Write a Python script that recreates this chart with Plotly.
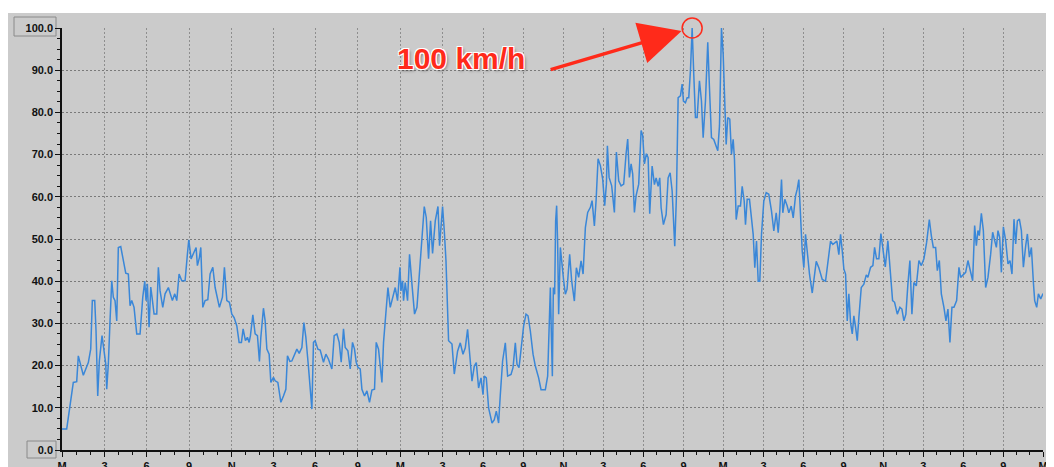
import numpy as np
import plotly.graph_objects as go

# ---- data: wind speed samples (record index, km/h) ----
REC = [0,4.7,11.3,14.7,16.3,21.3,26.3,28.7,30.3,32.7,34,35.7,37.3,40,42,43.7,44.7,46.3,48,49.7,51.3,53,54.7,56.3,58.7,61.3,63.7,66.3,68,69.7,72,74.7,78,80.7,82.7,84,85.3,87,88.7,90,92,94.7,96.3,98,100.7,103,106.3,110.3,112.7,114.7,117,119.7,123,125.3,126.7,129,131.3,134,135.3,137.3,138.7,140.7,143,145.7,148,150.7,153,157.3,160.3,162.3,164.7,167.3,169.7,172,174.7,177,179.3,181,183.3,185.3,187,188.3,190.7,193,195.3,197.3,
       198.7,201.3,203,204.7,207,208.7,211.3,213,215.7,218.7,221.3,223.7,225.3,227.7,229.7,232.3,234.7,237,239.7,241.7,243.7,246.3,248,249.7,251.3,253,255.7,258,261.3,263.7,266.3,269.7,272,274.7,277,279,281.3,283,285.7,288,290.3,292.3,294,295.7,298,299.7,302.3,304.7,307.3,309.7,312.3,314,316.3,318,319.7,321.3,323,325.7,328,330.3,333,335.3,337.7,338.7,340.3,341.3,343,345.3,347.3,349.7,352.3,354.7,357,359.7,362,364,366.3,368.3,370.3,373,375.7,377.3,379,380.3,382,383.7,386.3,
       389.7,392,395.3,398,400.7,403,405.3,407.3,409.7,412,414,416.3,418.7,420.7,422,424,426.3,429.7,432,434,436.3,438,440.3,443,445.3,448.7,450.7,453,454.7,456.7,459,461.3,463.7,465.7,468,470.7,473,476.3,478.7,483,485.3,487,488,489,490,491,492.3,493.3,494.3,495.3,496.3,498,499.7,501.3,503,504.7,507.3,509.3,512,514,516.3,518.7,520.7,523,525.3,528,529.7,532,533.7,535.7,538,540.3,542.3,544,545,546.7,549.3,552,554,556.3,558.7,561.3,563.7,565.3,567,568.7,570.3,572,573.7,576.3,578.7,580.3,582,584,
       585.7,587.3,589.7,592,593.7,595.7,597.3,598.7,601,603.7,605.7,607.7,609.7,611.3,612.3,614,615.7,618,619.7,621,623,624.7,626.3,628,629.7,631.3,633,634.7,637,639,640.7,643,645.3,647,649,651.3,653.7,655.3,657,659,660.7,662.3,663.7,665.3,667.3,669,670.7,672,673.7,675.7,678,679.7,681.7,683,684.7,687,689,690.7,692.3,694,695.7,697.3,699,701.3,703.7,706.3,709,711.3,713.7,715.7,717.3,719,720.3,722.3,724.7,726.3,728.7,730.7,733,734.7,736.3,738,739.7,741.3,743,744.7,747,749.7,752,753.7,756.3,759.7,763,765.7,768,770.3,772.3,774.3,776.3,778,779.7,781.3,783,
       784.7,786.3,788,789.7,791.3,793,794.7,796.3,798.7,801.3,803.7,805.3,808,810.3,812,814,816.3,818.3,820.3,822.7,825.3,828,830,832,834.7,837.3,839.3,841.3,843.3,845.3,847.3,849.3,851.3,853.7,856.3,858.7,861.3,864,866.7,868.7,870.7,873,874.7,876.7,878.7,881.3,883.3,885.3,887.3,889.3,891.3,894,896.3,898,900.7,903,905.3,908,910,912,913.7,915.3,916.7,918.7,920.7,923,925.3,928,930,932,933.7,935.3,937,938.7,940.7,943,945.3,947.3,949.3,951.3,953,954.7,956.7,958.7,960.7,963,964.7,966.7,968.7,970.7,972,974,975.7,978,980.3]

SPEED = [5,5,16.0,16.2,22.3,17.7,20.7,23.9,35.4,35.4,28.3,12.8,21.1,27.1,23.5,20.4,14.4,20.4,30.6,40.1,36.2,35.4,30.6,48.0,48.2,44.9,41.9,41.7,34.2,35.4,33.8,27.5,27.5,36.2,40.0,35.4,39.4,29.1,38.6,36.2,32.2,32.2,43.3,37.7,33.8,37.0,38.5,35.4,37.0,35.4,41.7,40.1,40.1,46.4,49.8,45.3,46.4,48.0,43.7,45.6,48.0,33.8,35.4,35.6,41.7,43.3,38.5,33.8,36.2,43.3,35.4,35.0,32.2,31.4,29.4,25.5,25.5,28.7,25.9,26.7,25.5,27.1,32.0,27.5,27.1,21.0,
         26.7,33.6,30.6,23.9,22.7,16.0,17.2,16.4,16.0,11.3,12.8,14.4,22.3,21.0,21.1,22.7,23.9,22.9,24.3,30.2,26.7,19.6,14.8,9.7,25.5,25.9,23.9,23.7,20.8,22.7,21.5,19.2,27.1,27.5,25.5,20.8,28.7,24.3,23.5,19.2,25.5,23.9,20.8,19.6,19.2,14.4,12.8,14.0,11.3,14.2,14.4,25.5,23.9,20.4,16.0,25.5,31.4,38.5,33.8,36.2,38.5,35.4,43.3,37.7,40.1,35.4,39.7,35.4,46.4,39.3,32.2,33.8,40.9,50.8,57.7,55.1,45.3,54.3,46.6,54.3,57.7,48.4,54.3,57.7,52.0,44.9,25.9,
         25.1,18.0,23.4,25.4,22.7,24.2,28.6,23.0,16.3,19.9,20.7,14.7,17.1,13.1,17.5,17.1,10.0,6.4,7.2,9.2,6.4,13.1,21.1,25.4,17.5,17.9,19.5,25.4,20.3,19.5,25.4,29.4,32.2,31.8,28.2,22.7,19.9,17.1,14.3,14.3,17.5,31.4,38.5,27.4,17.5,38.5,36.9,54.3,57.9,48.8,32.2,48.0,42.8,40.1,36.9,38.1,46.4,40.1,35.3,43.2,40.9,44.8,41.7,52.7,56.3,57.5,59.1,53.1,59.1,69.0,67.4,64.2,57.9,63.0,72.1,64.6,62.6,56.3,70.6,63.8,62.6,63.0,70.2,73.7,64.6,67.8,65.4,56.3,60.3,63.0,75.7,74.5,67.8,70.2,
         69.3,56.0,67.3,62.9,64.5,62.5,64.5,57.4,53.4,55.8,64.5,65.7,61.4,54.2,48.3,60.2,83.5,83.9,86.7,82.7,82.3,83.5,83.5,89.9,100.0,89.1,78.8,78.8,87.5,82.7,74.0,82.7,96.6,85.9,74.0,73.6,72.1,70.9,76.8,100.0,93.8,79.6,72.4,78.8,78.4,70.1,73.6,68.9,54.6,57.8,57.8,62.5,59.0,53.4,59.4,59.4,54.2,51.1,43.2,49.5,40.0,40.0,51.1,59.0,61.0,60.6,56.6,51.9,56.2,51.5,56.6,64.1,56.2,59.4,57.8,56.2,57.8,55.0,60.2,61.8,64.1,55.8,47.1,43.2,51.1,47.1,41.6,37.2,41.6,44.7,43.2,40.4,40.0,44.7,49.5,48.7,49.1,49.5,46.3,51.1,47.2,42.9,41.7,
         30.6,37.0,30.2,27.5,31.8,29.1,25.9,31.4,38.5,39.3,41.5,40.9,43.3,43.7,48.0,45.3,45.3,51.3,47.2,43.4,49.6,40.5,35.4,35.0,32.2,33.8,33.4,30.6,32.2,39.3,44.9,32.2,39.7,38.9,44.9,43.7,45.3,49.2,54.6,50.8,48.0,48.0,42.5,44.9,37.0,33.8,30.6,33.4,25.5,33.8,33.8,35.4,43.3,40.9,41.7,42.1,44.9,42.5,40.1,53.2,48.4,52.0,50.8,56.1,52.0,38.5,40.9,46.4,51.6,49.6,48.0,52.0,50.4,42.1,52.9,49.6,44.1,44.9,41.7,54.7,48.8,54.3,54.7,52.0,43.3,48.4,51.2,45.7,48.0,39.7,35.4,33.8,37.0,35.8,37.1]

# x-axis ticks: record index at which each 3-hour label falls
TICK_REC = [0,42.5,84.5,127,169.5,211.5,253,295.7,338,380.3,420.7,461,501,541,581,621,660.7,701,740.7,781,820.7,860.7,900.7,940.7,980.3]
TICK_TEXT = ["M","3","6","9","N","3","6","9","M","3","6","9","N","3","6","9","M","3","6","9","N","3","6","9","M"]
Y_TICKS = [0,10,20,30,40,50,60,70,80,90,100]
ANNOT_TEXT = "100 km/h"

X_MAX = TICK_REC[-1]
Y_MAX = 100

# hourly minor ticks (thirds between labels)
minor_vals = []
for a, b in zip(TICK_REC[:-1], TICK_REC[1:]):
    minor_vals += [a + (b - a) / 3, a + 2 * (b - a) / 3]

GRAY = "#cbcbcb"
RED = "#ff2a1a"
FONT = "Liberation Sans, Arial, sans-serif"

fig = go.Figure()
fig.add_trace(go.Scatter(x=REC, y=SPEED, mode="lines",
                         line=dict(color="#3a87d8", width=1.5),
                         hoverinfo="skip", showlegend=False))

pk = int(np.argmax(SPEED))
px_, py_ = REC[pk], SPEED[pk]

fig.update_layout(
    width=1046, height=459,
    margin=dict(l=54, r=11, t=20, b=17, autoexpand=False),
    paper_bgcolor="white", plot_bgcolor=GRAY,
    template="none",
    font=dict(family=FONT, size=11, color="#111111"),
    showlegend=False,
)

fig.update_xaxes(
    range=[0, X_MAX], tickmode="array", tickvals=TICK_REC, ticktext=TICK_TEXT,
    showgrid=True, gridcolor="#8e8e8e", griddash="2px,2px", gridwidth=1,
    showline=True, linecolor="#111111", linewidth=1.5,
    ticks="outside", ticklen=5, tickcolor="#111111", tickwidth=1,
    tickfont=dict(family=FONT, size=11, color="#111111", weight="bold"),
    minor=dict(tickmode="array", tickvals=minor_vals, ticks="outside", ticklen=3,
               tickcolor="#111111", showgrid=False),
    zeroline=False, automargin=False, fixedrange=True,
)
fig.update_yaxes(
    range=[0, Y_MAX], tickmode="array", tickvals=Y_TICKS, tickformat=".1f",
    showgrid=True, gridcolor="#7a7a7a", griddash="2px,2px", gridwidth=1,
    showline=True, linecolor="#111111", linewidth=1.5,
    ticks="outside", ticklen=5, tickcolor="#111111", tickwidth=1,
    tickfont=dict(family=FONT, size=11, color="#111111", weight="bold"),
    minor=dict(dtick=2.5, tick0=0, ticks="outside", ticklen=3, tickcolor="#111111",
               showgrid=False),
    zeroline=False, automargin=False, fixedrange=True,
)

# gray panel background
fig.add_shape(type="rect", xref="paper", yref="paper", layer="below",
              xsizemode="pixel", ysizemode="pixel", xanchor=0, yanchor=0,
              x0=-54, x1=992, y0=-17, y1=437,
              fillcolor=GRAY, line=dict(width=0))
# boxes around the end labels
fig.add_shape(type="rect", xref="paper", yref="paper", layer="below",
              xsizemode="pixel", ysizemode="pixel", xanchor=0, yanchor=1,
              x0=-48, x1=-6, y0=-8, y1=11,
              fillcolor="rgba(0,0,0,0)", line=dict(color="#8a8a8a", width=1))
fig.add_shape(type="rect", xref="paper", yref="paper", layer="below",
              xsizemode="pixel", ysizemode="pixel", xanchor=0, yanchor=0,
              x0=-35, x1=-6, y0=-8, y1=9,
              fillcolor="rgba(0,0,0,0)", line=dict(color="#8a8a8a", width=1))

# red circle around the peak (paper coords so it is not clipped)
fig.add_shape(type="circle", xref="paper", yref="paper", layer="above",
              xsizemode="pixel", ysizemode="pixel",
              xanchor=px_ / X_MAX, yanchor=py_ / Y_MAX,
              x0=-10, x1=10, y0=-10, y1=10,
              line=dict(color=RED, width=1.5), fillcolor="rgba(0,0,0,0)")

# arrow to the peak
fig.add_annotation(x=px_, y=py_, xref="x", yref="y", text="", showarrow=True,
                   ax=-143, ay=42, arrowcolor=RED, arrowwidth=3.5,
                   arrowhead=2, arrowsize=2.4, standoff=11)
# label
fig.add_annotation(x=px_, y=py_, xref="x", yref="y", text=ANNOT_TEXT, showarrow=False,
                   xshift=-231, yshift=-30,
                   font=dict(family=FONT, size=30, color=RED, weight="bold",
                             shadow="-1px -1px 0 #fff, 1px -1px 0 #fff, -1px 1px 0 #fff, 1px 1px 0 #fff, 2px 2px 3px rgba(0,0,0,0.35)"))

fig.write_html("out.html")
